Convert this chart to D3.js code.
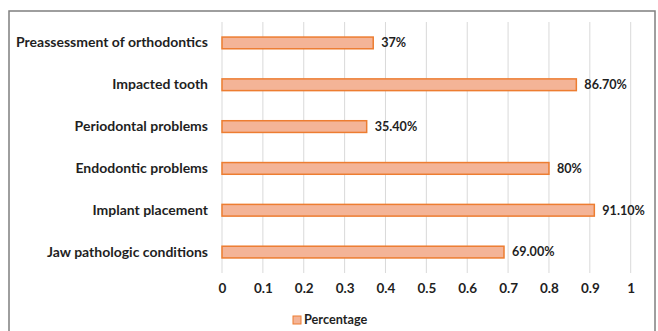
<!DOCTYPE html>
<html>
<head>
<meta charset="utf-8">
<script src="https://cdn.jsdelivr.net/npm/d3@7"></script>
<style>
  html, body { margin: 0; padding: 0; background: #fff; }
  svg { display: block; }
  text { font-family: Lato, "Open Sans", sans-serif; font-weight: 700; fill: #1f1f1f; }
</style>
</head>
<body>
<svg id="chart" width="658" height="331"></svg>
<script>
// Indications for imaging, share of respondents
const categories = [
  "Preassessment of orthodontics",
  "Impacted tooth",
  "Periodontal problems",
  "Endodontic problems",
  "Implant placement",
  "Jaw pathologic conditions"
];
const values = [0.37, 0.867, 0.354, 0.80, 0.911, 0.69];
const valueLabels = ["37%", "86.70%", "35.40%", "80%", "91.10%", "69.00%"];
const xTicks = [0, 0.1, 0.2, 0.3, 0.4, 0.5, 0.6, 0.7, 0.8, 0.9, 1];
const seriesName = "Percentage";

const svg = d3.select("#chart");

// outer frame
svg.append("rect")
  .attr("x", 9).attr("y", 11)
  .attr("width", 646).attr("height", 330)
  .attr("fill", "none").attr("stroke", "#7f7f7f").attr("stroke-width", 1.5);

const x = d3.scaleLinear().domain([0, 1]).range([222, 630.7]);
const y = d3.scaleBand().domain(categories).range([22, 273]).paddingInner(0.72).paddingOuter(0.36);

// vertical gridlines
svg.append("g")
  .selectAll("line")
  .data(xTicks)
  .join("line")
  .attr("x1", d => x(d)).attr("x2", d => x(d))
  .attr("y1", 22).attr("y2", 273)
  .attr("stroke", "#d9d9d9").attr("stroke-width", 1);

// x axis tick labels
const xAxis = d3.axisBottom(x).tickValues(xTicks).tickSize(0).tickPadding(0)
  .tickFormat(d => d3.format("")(d));
const gx = svg.append("g").attr("transform", "translate(0,285)").call(xAxis);
gx.select(".domain").remove();
gx.selectAll("text")
  .attr("font-size", 13.5).attr("dy", "0.6em")
  .style("font-family", "Lato, 'Open Sans', sans-serif").style("font-weight", 700).attr("fill", "#1f1f1f");

// category labels
const yAxis = d3.axisLeft(y).tickSize(0).tickPadding(0);
const gy = svg.append("g").attr("transform", "translate(208,0)").call(yAxis);
gy.select(".domain").remove();
gy.selectAll("text")
  .attr("font-size", 14)
  .style("font-family", "Lato, 'Open Sans', sans-serif").style("font-weight", 700).attr("fill", "#1f1f1f");

// bars
const rows = categories.map((c, i) => ({ c, v: values[i], label: valueLabels[i] }));
svg.append("g")
  .selectAll("rect")
  .data(rows)
  .join("rect")
  .attr("x", x(0))
  .attr("y", d => y(d.c))
  .attr("width", d => x(d.v) - x(0))
  .attr("height", y.bandwidth())
  .attr("fill", "#f4b497")
  .attr("stroke", "#ed7d31")
  .attr("stroke-width", 1.5);

// value labels
svg.append("g")
  .selectAll("text")
  .data(rows)
  .join("text")
  .attr("x", d => x(d.v) + 8)
  .attr("y", d => y(d.c) + y.bandwidth() / 2)
  .attr("dy", "0.35em")
  .attr("font-size", 12.6)
  .text(d => d.label);

// legend
const lg = svg.append("g").attr("transform", "translate(293,316)");
lg.append("rect")
  .attr("width", 8).attr("height", 8)
  .attr("fill", "#f4b497").attr("stroke", "#ed7d31").attr("stroke-width", 1);
lg.append("text")
  .attr("x", 11).attr("y", 4).attr("dy", "0.35em")
  .attr("font-size", 12.7)
  .text(seriesName);
</script>
</body>
</html>
